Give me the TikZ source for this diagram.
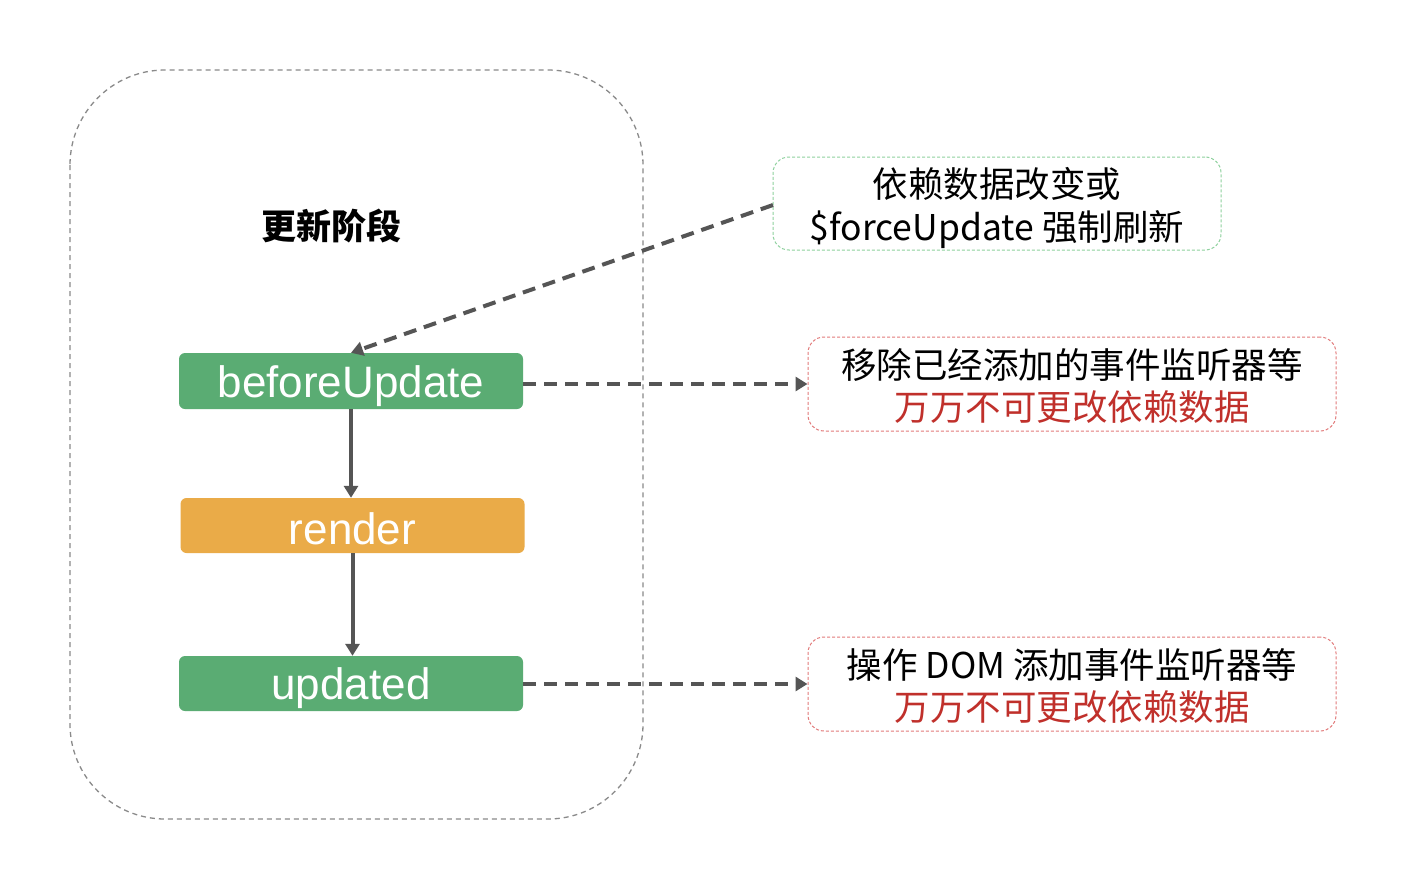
\documentclass[tikz,border=0pt]{standalone}
\usepackage{fontspec}
\usetikzlibrary{arrows.meta}
\newfontfamily\cjk{Noto Sans CJK SC}
\newfontfamily\lat{Liberation Sans}
\definecolor{stepgreen}{HTML}{5AAC73}
\definecolor{steporange}{HTML}{EAAB48}
\definecolor{linegray}{HTML}{555555}
\definecolor{framegray}{HTML}{8A8A8A}
\definecolor{notegreen}{HTML}{8ED19E}
\definecolor{notered}{HTML}{E27A7A}
\definecolor{warnred}{HTML}{C0302B}
\newcommand{\lowered}[2]{\raisebox{-#1}[\height][\depth]{#2}}
\tikzset{
  stepbox/.style={rounded corners=6pt, minimum width=344pt, minimum height=56pt, inner sep=0pt,
    text=white, font=\lat\fontsize{44}{52}\selectfont},
  notebox/.style={rounded corners=16pt, dashed, line width=1pt, dash pattern=on 3pt off 2pt,
    inner sep=0pt, align=center, font=\cjk\fontsize{35.5}{42}\selectfont},
  flow/.style={draw=linegray, line width=4pt, -{Triangle[length=12pt,width=14pt]}},
  dflow/.style={flow, dash pattern=on 13pt off 8pt},
}
\begin{document}
\begin{tikzpicture}[x=1pt,y=-1pt]
\useasboundingbox (0,0) rectangle (1414,894);
\fill[white] (0,0) rectangle (1414,894);
% outer frame
\draw[framegray, line width=1.3pt, dash pattern=on 5pt off 4pt, rounded corners=95pt] (70,70) rectangle (643,819);
\node[font=\cjk\bfseries\fontsize{35}{42}\selectfont] (title) at (331,226) {更新阶段};
% steps
\node[stepbox, fill=stepgreen] (bu) at (351,381) {\lowered{5pt}{beforeUpdate}};
\node[stepbox, fill=steporange, minimum height=55pt] (rd) at (352.5,525.5) {\lowered{3pt}{render}};
\node[stepbox, fill=stepgreen, minimum height=55pt] (ud) at (351,683.5) {\lowered{5pt}{updated}};
% notes
\node[notebox, draw=notegreen, minimum width=448pt, minimum height=93pt] (n1) at (997,203.5)
  {\lowered{7pt}{\begin{tabular}{@{}c@{}}依赖数据改变或\\\$forceUpdate 强制刷新\end{tabular}}};
\node[notebox, draw=notered, minimum width=528pt, minimum height=94pt] (n2) at (1072,384)
  {\lowered{7pt}{\begin{tabular}{@{}c@{}}移除已经添加的事件监听器等\\\textcolor{warnred}{万万不可更改依赖数据}\end{tabular}}};
\node[notebox, draw=notered, minimum width=528pt, minimum height=94pt] (n3) at (1072,684)
  {\lowered{7pt}{\begin{tabular}{@{}c@{}}操作 DOM 添加事件监听器等\\\textcolor{warnred}{万万不可更改依赖数据}\end{tabular}}};
% connectors
\coordinate (n1w) at (773,205);
\draw[dflow] (n1w) -- (bu.north);
\draw[dflow] (bu.east |- n2.west) -- (n2.west);
\draw[dflow] (ud.east |- n3.west) -- (n3.west);
\draw[flow] (bu.south) -- (bu.south |- rd.north);
\draw[flow] (rd.south) -- (rd.south |- ud.north);
\end{tikzpicture}
\end{document}
